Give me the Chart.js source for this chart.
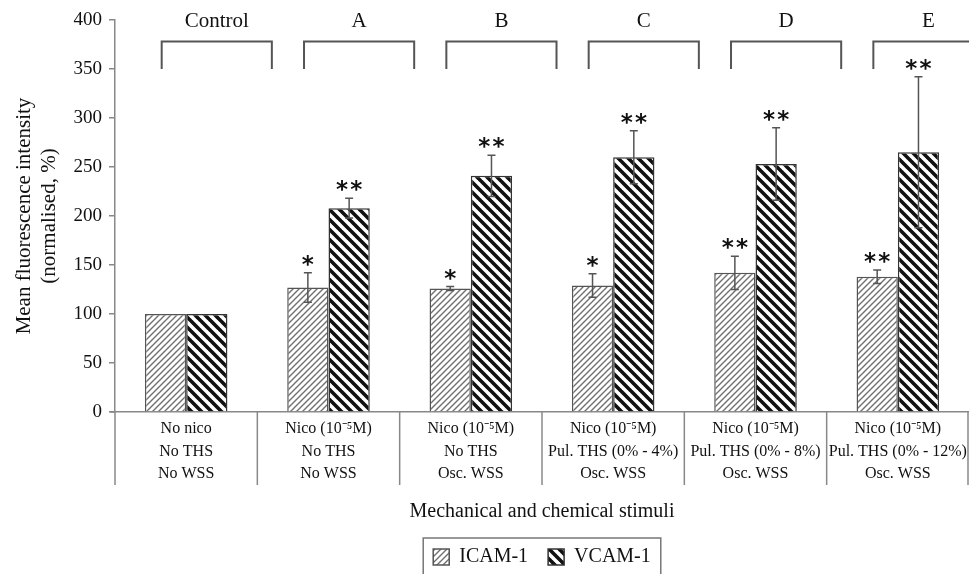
<!DOCTYPE html>
<html>
<head>
<meta charset="utf-8">
<script src="https://cdn.jsdelivr.net/npm/chart.js@4.4.1/dist/chart.umd.min.js"></script>
<style>
  html, body { margin: 0; padding: 0; background: #fff; }
  #wrap { width: 969px; height: 574px; }
</style>
</head>
<body>
<div id="wrap"><canvas id="chart"></canvas></div>
<script>
var categories = [
  ['No nico', 'No THS', 'No WSS'],
  ['Nico (10\u207B\u2075M)', 'No THS', 'No WSS'],
  ['Nico (10\u207B\u2075M)', 'No THS', 'Osc. WSS'],
  ['Nico (10\u207B\u2075M)', 'Pul. THS (0% - 4%)', 'Osc. WSS'],
  ['Nico (10\u207B\u2075M)', 'Pul. THS (0% - 8%)', 'Osc. WSS'],
  ['Nico (10\u207B\u2075M)', 'Pul. THS (0% - 12%)', 'Osc. WSS']
];
var groupNames = ['Control', 'A', 'B', 'C', 'D', 'E'];

var icam = [100, 127, 126, 129, 142, 138];
var icamErr = [0, 15, 2, 12, 17, 7];
var icamStars = ['', '*', '*', '*', '**', '**'];

var vcam = [100, 208, 241, 260, 253, 265];
var vcamErr = [0, 10, 21, 27, 37, 77];
var vcamStars = ['', '**', '**', '**', '**', '**'];

var yMin = 0, yMax = 400, yStep = 50;

var serif = '"Liberation Serif", "Times New Roman", serif';

function hatch(size, width, color, dir) {
  var c = document.createElement('canvas');
  c.width = size; c.height = size;
  var g = c.getContext('2d');
  g.fillStyle = '#fff';
  g.fillRect(0, 0, size, size);
  g.strokeStyle = color;
  g.lineWidth = width;
  g.beginPath();
  if (dir === '/') {
    g.moveTo(-1, size + 1); g.lineTo(size + 1, -1);
    g.moveTo(-1, 1); g.lineTo(1, -1);
    g.moveTo(size - 1, size + 1); g.lineTo(size + 1, size - 1);
  } else {
    g.moveTo(-1, -1); g.lineTo(size + 1, size + 1);
    g.moveTo(size - 1, -1); g.lineTo(size + 1, 1);
    g.moveTo(-1, size - 1); g.lineTo(1, size + 1);
  }
  g.stroke();
  return document.getElementById('chart').getContext('2d').createPattern(c, 'repeat');
}

var icamFill = hatch(6, 1.4, '#707070', '/');
var vcamFill = hatch(10, 3.6, '#111', '\\');

// error bars + significance stars
var errorBars = {
  id: 'errorBars',
  afterDatasetsDraw: function (chart) {
    var ctx = chart.ctx, y = chart.scales.y;
    var errs = [icamErr, vcamErr], stars = [icamStars, vcamStars];
    ctx.save();
    errs.forEach(function (e, di) {
      var meta = chart.getDatasetMeta(di);
      meta.data.forEach(function (bar, i) {
        var v = chart.data.datasets[di].data[i];
        if (e[i]) {
          var t = y.getPixelForValue(v + e[i]);
          var b = y.getPixelForValue(v - e[i]);
          ctx.strokeStyle = '#555';
          ctx.lineWidth = 1.5;
          ctx.beginPath();
          ctx.moveTo(bar.x, t); ctx.lineTo(bar.x, b);
          ctx.moveTo(bar.x - 4, t); ctx.lineTo(bar.x + 4, t);
          ctx.moveTo(bar.x - 4, b); ctx.lineTo(bar.x + 4, b);
          ctx.stroke();
        }
        if (stars[di][i]) {
          ctx.fillStyle = '#111';
          ctx.font = 'bold 23px "DejaVu Sans"';
          ctx.textAlign = 'center';
          ctx.textBaseline = 'middle';
          ctx.fillText(stars[di][i].split('').join('\u200A'), bar.x, y.getPixelForValue(v + e[i]) - 7);
        }
      });
    });
    ctx.restore();
  }
};

// group brackets and names above the bars, separators below the axis, legend frame
var decorations = {
  id: 'decorations',
  afterDraw: function (chart) {
    var ctx = chart.ctx, x = chart.scales.x, y = chart.scales.y;
    var w = x.getPixelForValue(1) - x.getPixelForValue(0);
    ctx.save();
    ctx.strokeStyle = '#555';
    ctx.lineWidth = 2;
    groupNames.forEach(function (name, i) {
      var c = x.getPixelForValue(i) + 0.215 * w;
      var l = c - 0.387 * w, r = c + 0.387 * w;
      var top = y.getPixelForValue(378), bot = y.getPixelForValue(350);
      ctx.beginPath();
      ctx.moveTo(l, bot); ctx.lineTo(l, top); ctx.lineTo(r, top); ctx.lineTo(r, bot);
      ctx.stroke();
      ctx.fillStyle = '#111';
      ctx.font = '21px ' + serif;
      ctx.textAlign = 'center';
      ctx.textBaseline = 'middle';
      ctx.fillText(name, c, y.getPixelForValue(398));
    });
    ctx.strokeStyle = '#888';
    ctx.lineWidth = 1.5;
    var y0 = y.getPixelForValue(0);
    ctx.beginPath();
    ctx.moveTo(x.left - 5, y0); ctx.lineTo(x.left, y0);
    ctx.stroke();
    for (var i = 0; i <= categories.length; i++) {
      var px = Math.min(x.getPixelForValue(i - 0.5), chart.width - 1);
      ctx.beginPath();
      ctx.moveTo(px, y0); ctx.lineTo(px, y0 + 73);
      ctx.stroke();
    }
    var boxes = chart.legend.legendHitBoxes;
    if (boxes && boxes.length) {
      var minX = Infinity, maxX = -Infinity;
      boxes.forEach(function (b) { minX = Math.min(minX, b.left); maxX = Math.max(maxX, b.left + b.width); });
      ctx.strokeStyle = '#777';
      ctx.lineWidth = 1.5;
      ctx.strokeRect(minX - 10, boxes[0].top - 9, maxX - minX + 20, 60);
    }
    ctx.restore();
  }
};

new Chart(document.getElementById('chart'), {
  type: 'bar',
  data: {
    labels: categories,
    datasets: [
      { label: 'ICAM-1', data: icam, backgroundColor: icamFill, borderColor: '#555', borderWidth: 1.5 },
      { label: 'VCAM-1', data: vcam, backgroundColor: vcamFill, borderColor: '#333', borderWidth: 1.5 }
    ]
  },
  options: {
    responsive: true,
    maintainAspectRatio: false,
    animation: false,
    layout: { padding: { top: 20, right: 0, bottom: -3, left: 0 } },
    datasets: { bar: { categoryPercentage: 0.58, barPercentage: 1 } },
    plugins: {
      tooltip: { enabled: false },
      legend: {
        position: 'bottom',
        fullSize: false,
        labels: {
          color: '#111',
          font: { family: serif, size: 20 },
          boxWidth: 16,
          boxHeight: 16,
          padding: 20
        }
      }
    },
    scales: {
      x: {
        grid: { display: false, drawTicks: false },
        border: { display: true, color: '#888', width: 1.5 },
        ticks: {
          color: '#111',
          font: { family: serif, size: 16, lineHeight: 1.4 },
          padding: 6,
          maxRotation: 0,
          autoSkip: false
        },
        title: {
          display: true,
          text: 'Mechanical and chemical stimuli',
          color: '#111',
          font: { family: serif, size: 20, lineHeight: 1.2 },
          padding: { top: 4, bottom: 3 }
        },
        afterFit: function (s) { s.height = 115; s.paddingRight = 0; }
      },
      y: {
        min: yMin,
        max: yMax,
        ticks: {
          stepSize: yStep,
          color: '#111',
          font: { family: serif, size: 19 },
          padding: 7
        },
        grid: { drawOnChartArea: false, tickLength: 6, color: '#888', lineWidth: 1.5 },
        border: { color: '#888', width: 1.5 },
        title: {
          display: true,
          text: ['Mean fluorescence intensity', '(normalised, %)'],
          color: '#111',
          font: { family: serif, size: 21, lineHeight: 1.2 },
          padding: { top: 12, bottom: 0 }
        },
        afterFit: function (s) { s.width = 115; }
      }
    }
  },
  plugins: [errorBars, decorations]
});
</script>
</body>
</html>
